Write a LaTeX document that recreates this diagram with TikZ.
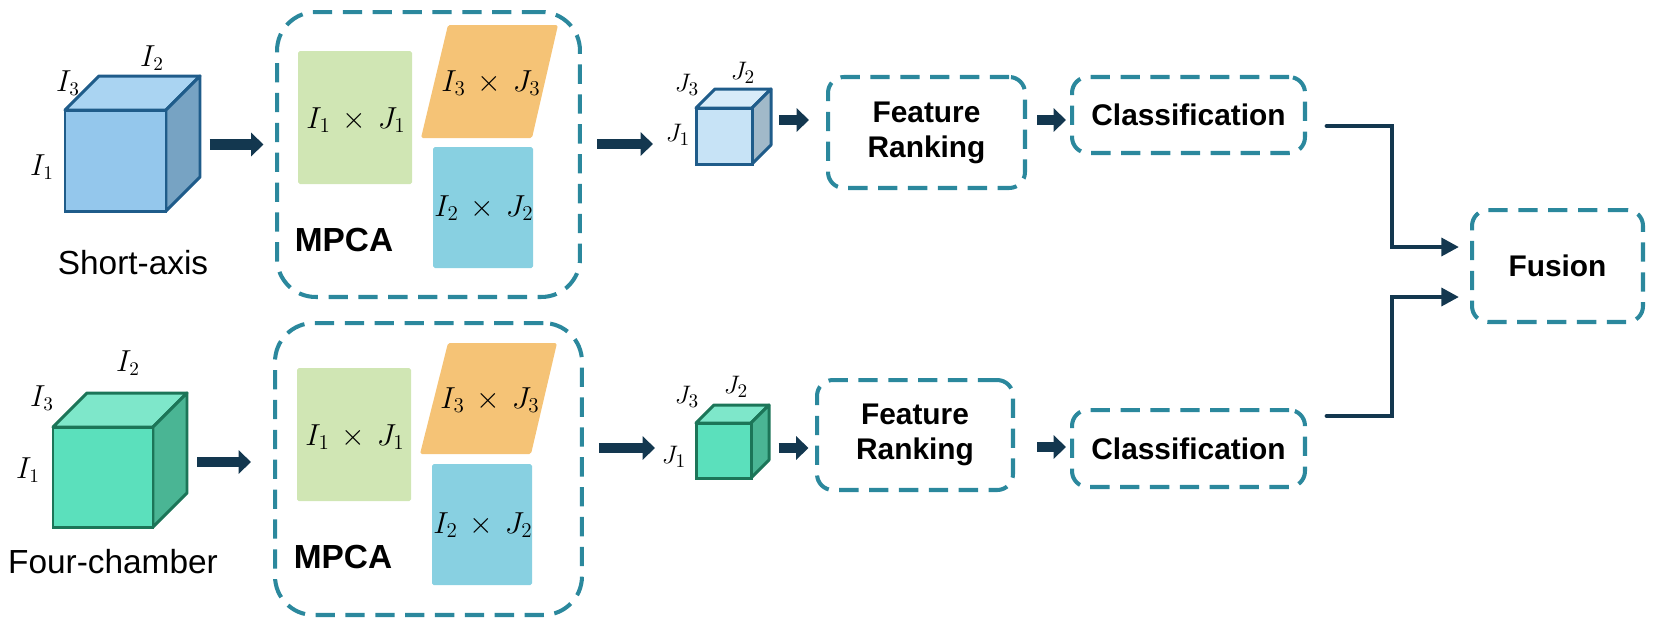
\documentclass[tikz,border=0pt]{standalone}
\usepackage{fontspec}
\setmainfont{Liberation Sans}
\usetikzlibrary{arrows.meta}

\definecolor{saFront}{HTML}{94C7EC}
\definecolor{saTop}{HTML}{AAD4F2}
\definecolor{saSide}{HTML}{77A3C3}
\definecolor{saLine}{HTML}{1F5C8A}
\definecolor{smFront}{HTML}{C7E3F6}
\definecolor{smTop}{HTML}{D8ECF9}
\definecolor{smSide}{HTML}{A1B9C9}
\definecolor{fcFront}{HTML}{5BE0BC}
\definecolor{fcTop}{HTML}{7EE7CA}
\definecolor{fcSide}{HTML}{4AB594}
\definecolor{fcLine}{HTML}{1C7558}
\definecolor{modeOne}{HTML}{D0E6B4}
\definecolor{modeThree}{HTML}{F5C376}
\definecolor{modeTwo}{HTML}{88D0E1}
\definecolor{boxTeal}{HTML}{2B889D}
\definecolor{arrowNavy}{HTML}{13374F}

% #1 name, #2 left, #3 top, #4 size, #5 depth, #6 front, #7 top, #8 side, #9 line
\newcommand{\tensorcube}[9]{%
  \draw[draw=#9, fill=#7, line join=round] (#2,#3) -- ++(#5,-#5) -- ++(#4,0) -- ++(-#5,#5) -- cycle;
  \draw[draw=#9, fill=#8, line join=round] (#2,#3) ++(#4,0) -- ++(#5,-#5) -- ++(0,#4) -- ++(-#5,#5) -- cycle;
  \draw[draw=#9, fill=#6] (#2,#3) rectangle ++(#4,#4);
  \coordinate (#1) at ($(#2,#3)+0.5*(#4,#4)$);
}

\tikzset{
  dbox/.style={draw=boxTeal, line width=2.3pt, dash pattern=on 11pt off 6pt,
    rounded corners=9pt, align=center, font=\fontsize{17}{20}\selectfont\bfseries},
  flow/.style={draw=arrowNavy, line width=6.2pt, -{Triangle[length=7pt,width=13pt]}},
  link/.style={draw=arrowNavy, line width=2.8pt, line cap=round,
    -{Triangle[length=10pt,width=10pt]}},
  dimlabel/.style={font=\fontsize{16}{16}\selectfont, inner sep=0pt},
  smalldim/.style={font=\fontsize{15}{15}\selectfont, inner sep=0pt},
  modelabel/.style={font=\fontsize{17}{17}\selectfont, inner sep=0pt},
  viewlabel/.style={font=\fontsize{19}{22}\selectfont, inner sep=0pt},
  mpcalabel/.style={font=\fontsize{19}{22}\selectfont\bfseries, inner sep=0pt}
}
\usetikzlibrary{calc}

\begin{document}
\begin{tikzpicture}[x=0.02cm, y=-0.02cm, line width=1.7pt]
  \useasboundingbox (0,0) rectangle (1662,637);

  % short-axis branch
  \tensorcube{saC}{65}{110}{101}{34}{saFront}{saTop}{saSide}{saLine}
  \node[dimlabel] (saI3) at (68,83) {$I_3$};
  \node[dimlabel] (saI2) at (152,58) {$I_2$};
  \node[dimlabel] (saI1) at (42,167) {$I_1$};
  \node[viewlabel] (saTxt) at (133,263) {Short-axis};

  \node[dbox, rounded corners=22pt, minimum width=6.06cm, minimum height=5.7cm] (mpA) at (428.5,154.5) {};
  \fill[modeOne, rounded corners=1pt] (298,51) rectangle (412,184);
  \fill[modeThree, rounded corners=1pt] (448,25) -- (558,25) -- (532,138) -- (421,138) -- cycle;
  \fill[modeTwo, rounded corners=1pt] (433,147) rectangle (533,268);
  \node[modelabel] (mpA1) at (356,120) {$I_1\,\times\,J_1$};
  \node[modelabel] (mpA3) at (491,83) {$I_3\,\times\,J_3$};
  \node[modelabel] (mpA2) at (484,208) {$I_2\,\times\,J_2$};
  \node[mpcalabel] (mpATxt) at (344,240) {MPCA};

  \tensorcube{saJ}{696}{108}{56}{19}{smFront}{smTop}{smSide}{saLine}
  \node[smalldim] (saJ3) at (687,85) {$J_3$};
  \node[smalldim] (saJ2) at (743,73) {$J_2$};
  \node[smalldim] (saJ1) at (678,135) {$J_1$};

  \node[dbox, minimum width=3.94cm, minimum height=2.22cm] (frA) at (926.5,132.5) {Feature\\Ranking};
  \node[dbox, minimum width=4.66cm, minimum height=1.52cm] (clsA) at (1188.5,115) {Classification};

  % four-chamber branch
  \tensorcube{fcC}{53}{427}{100}{34}{fcFront}{fcTop}{fcSide}{fcLine}
  \node[dimlabel] (fcI3) at (42,398) {$I_3$};
  \node[dimlabel] (fcI2) at (128,363) {$I_2$};
  \node[dimlabel] (fcI1) at (28,470) {$I_1$};
  \node[viewlabel] (fcTxt) at (113,562) {Four-chamber};

  \node[dbox, rounded corners=22pt, minimum width=6.14cm, minimum height=5.84cm] (mpB) at (428.5,469) {};
  \fill[modeOne, rounded corners=1pt] (297,368) rectangle (411,501);
  \fill[modeThree, rounded corners=1pt] (448,343) -- (557,343) -- (531,454) -- (420,454) -- cycle;
  \fill[modeTwo, rounded corners=1pt] (432,464) rectangle (532,585);
  \node[modelabel] (mpB1) at (355,437) {$I_1\,\times\,J_1$};
  \node[modelabel] (mpB3) at (490,400) {$I_3\,\times\,J_3$};
  \node[modelabel] (mpB2) at (483,525) {$I_2\,\times\,J_2$};
  \node[mpcalabel] (mpBTxt) at (343,557) {MPCA};

  \tensorcube{fcJ}{696}{423}{55}{18}{fcFront}{fcTop}{fcSide}{fcLine}
  \node[smalldim] (fcJ3) at (687,397) {$J_3$};
  \node[smalldim] (fcJ2) at (736,387) {$J_2$};
  \node[smalldim] (fcJ1) at (674,457) {$J_1$};

  \node[dbox, minimum width=3.92cm, minimum height=2.2cm] (frB) at (915,435) {Feature\\Ranking};
  \node[dbox, minimum width=4.66cm, minimum height=1.54cm] (clsB) at (1188.5,448.5) {Classification};

  \node[dbox, minimum width=3.42cm, minimum height=2.24cm] (fus) at (1557.5,266) {Fusion};

  % arrows
  \draw[flow] (saC) ++(94,-16) -- ++(54,0);
  \draw[flow] (mpA.east) ++(15,-10.5) -- ++(56,0);
  \draw[flow] (saJ) ++(55,-16) -- ++(30,0);
  \draw[flow] (frA.east) ++(10,-12.5) -- ++(29,0);

  \draw[flow] (fcC) ++(94,-15) -- ++(54,0);
  \draw[flow] (mpB.east) ++(15,-21) -- ++(56,0);
  \draw[flow] (fcJ) ++(55,-2.5) -- ++(30,0);
  \draw[flow] (frB.east) ++(22,12) -- ++(29,0);

  \draw[link] ([shift={(20,11)}]clsA.east) -| ([shift={(-78,-19)}]fus.west) -- ([shift={(-11,-19)}]fus.west);
  \draw[link] ([shift={(20,-32.5)}]clsB.east) -| ([shift={(-78,31)}]fus.west) -- ([shift={(-11,31)}]fus.west);
\end{tikzpicture}
\end{document}
